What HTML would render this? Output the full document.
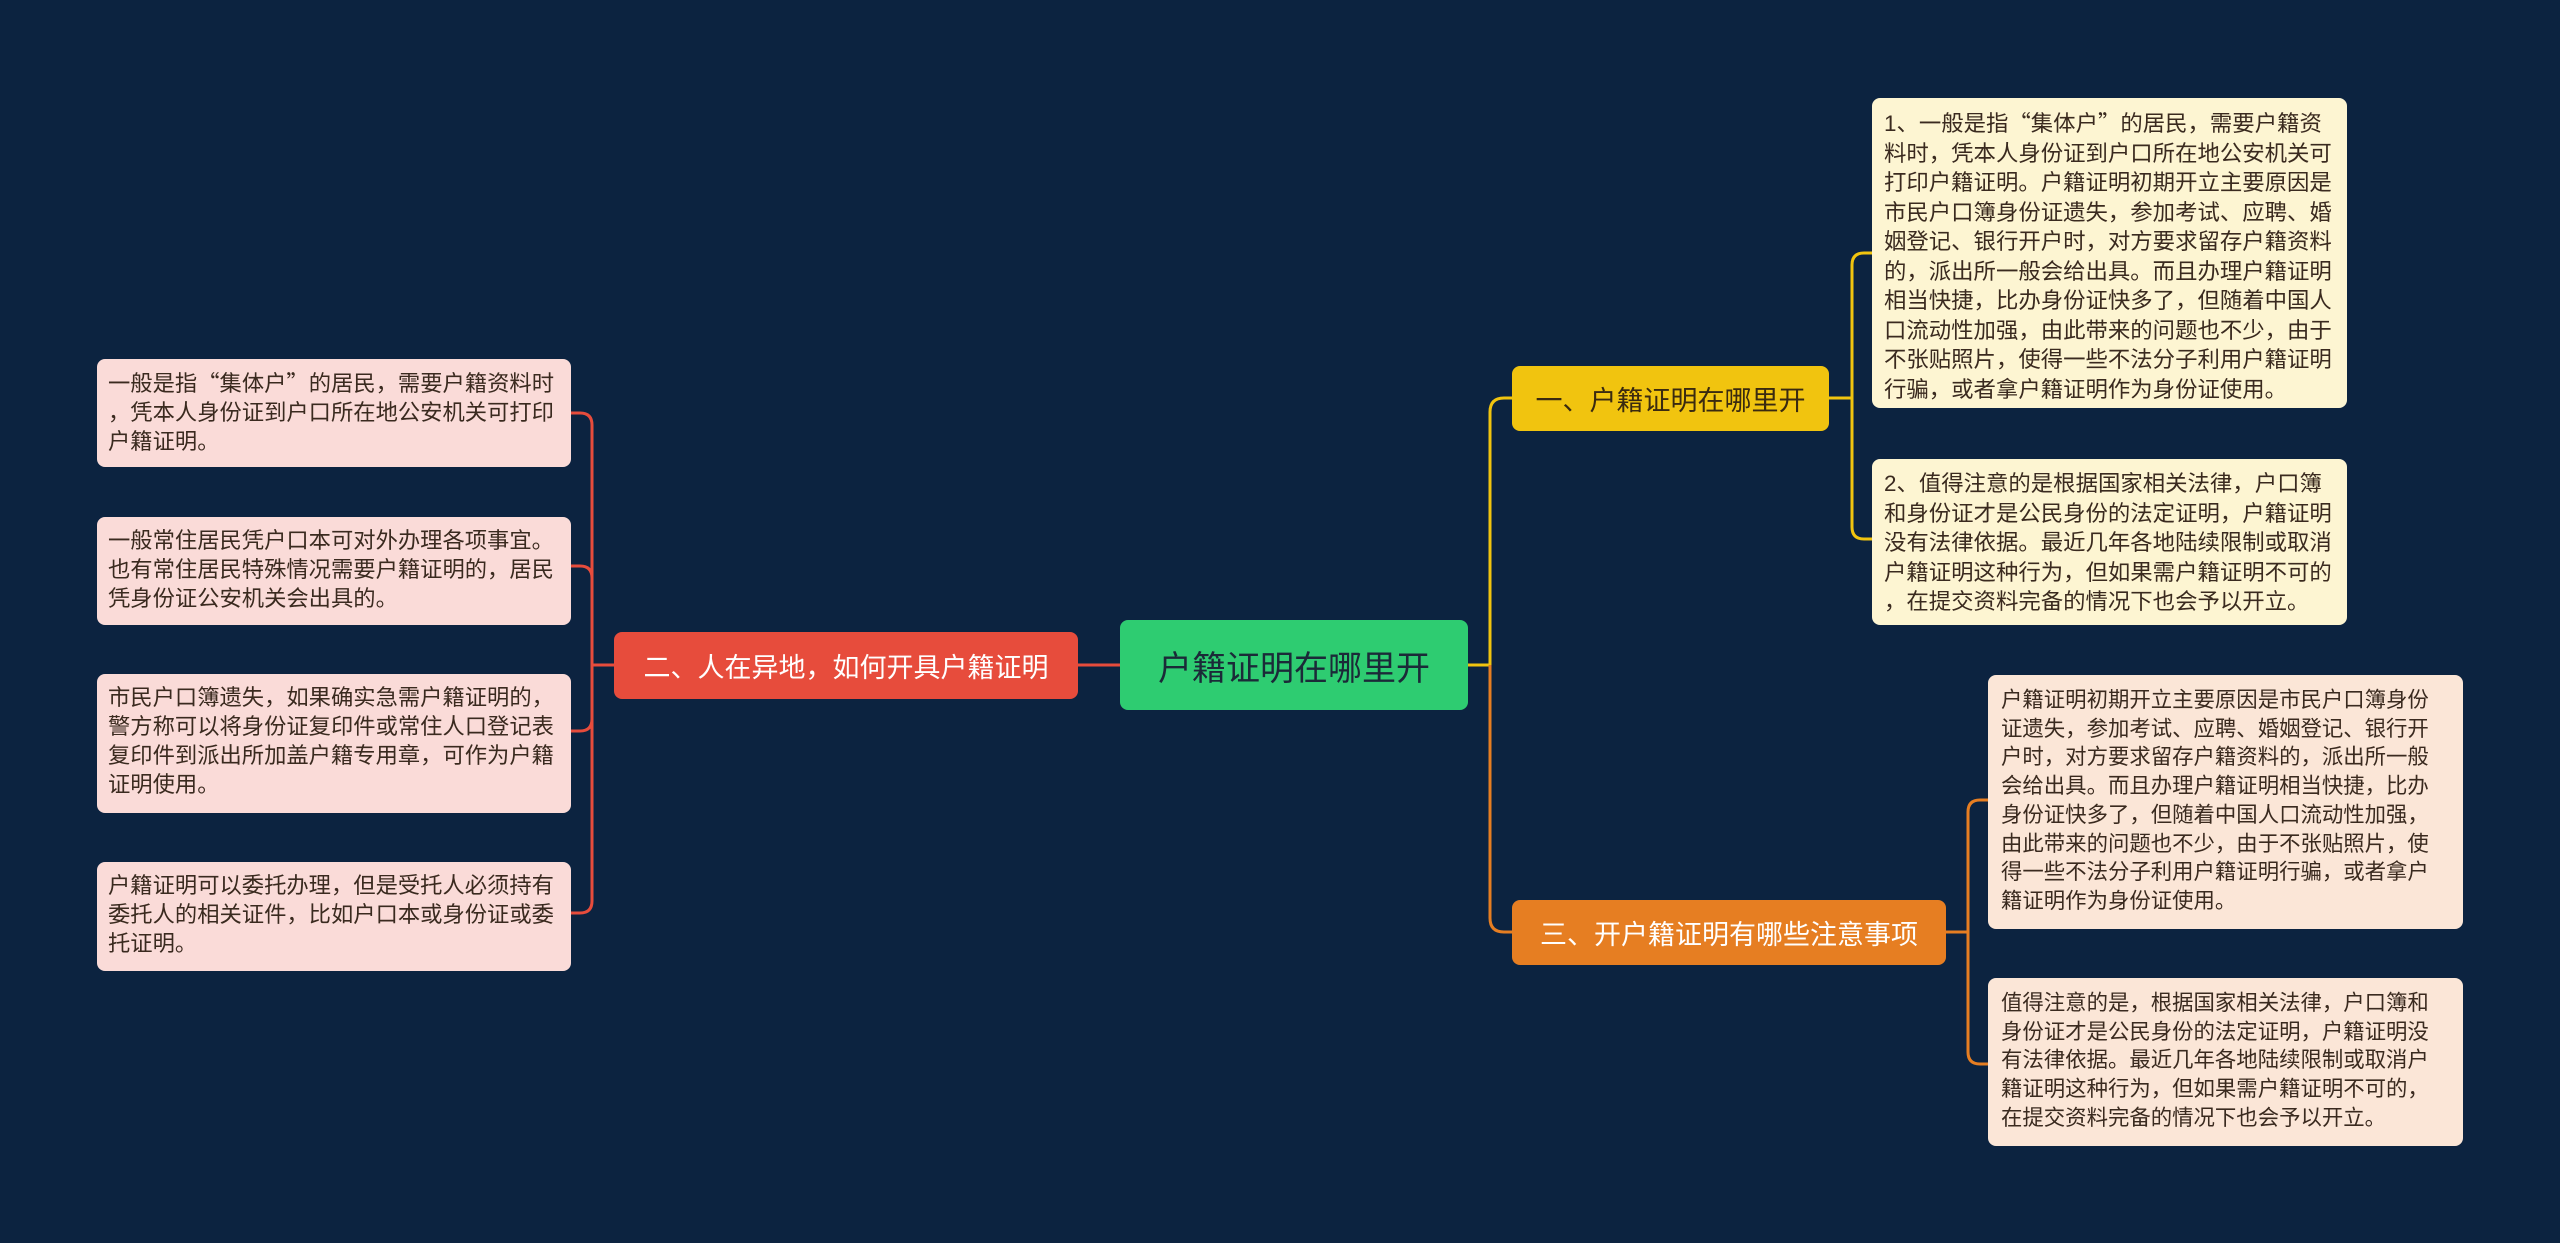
<!DOCTYPE html>
<html><head><meta charset="utf-8"><style>
body{margin:0;width:2560px;height:1243px;background:#0c2340;overflow:hidden;position:relative;font-family:"Liberation Sans","Noto Sans CJK SC",sans-serif;}
.b{position:absolute;box-sizing:border-box;border-radius:8px;white-space:nowrap;color:#3a2a1f;}
.n{position:absolute;box-sizing:border-box;border-radius:8px;display:flex;align-items:center;justify-content:center;white-space:nowrap;color:#fff;}
.l{background:#fadbd8;font-size:22.3px;line-height:29px;padding:9px 0 0 11px;}
.t{background:#fdf5d2;font-size:22.4px;line-height:29.5px;padding:10px 0 0 12px;}
.r{background:#fbe6d7;font-size:21.4px;line-height:28.7px;padding:11px 0 0 13px;}
.q{font-family:"Noto Sans CJK SC",sans-serif;}
</style></head><body>
<svg width="2560" height="1243" style="position:absolute;left:0;top:0">
<g fill="none" stroke-width="3">
<path d="M1120 665 H1078" stroke="#e74c3c"/>
<path d="M614 665 H592 M592 425 V901" stroke="#e74c3c"/>
<path d="M571 413 H580 Q592 413 592 425" stroke="#e74c3c"/>
<path d="M571 566 H580 Q592 566 592 578" stroke="#e74c3c"/>
<path d="M571 731 H580 Q592 731 592 719" stroke="#e74c3c"/>
<path d="M571 913 H580 Q592 913 592 901" stroke="#e74c3c"/>
<path d="M1468 665 H1490" stroke="#f1c40f"/>
<path d="M1490 665 V412 Q1490 398 1504 398 H1512" stroke="#f1c40f"/>
<path d="M1490 665 V918 Q1490 932 1504 932 H1512" stroke="#e67e22"/>
<path d="M1829 398 H1852 M1852 265 V527" stroke="#f1c40f"/>
<path d="M1872 253 H1864 Q1852 253 1852 265" stroke="#f1c40f"/>
<path d="M1872 539 H1864 Q1852 539 1852 527" stroke="#f1c40f"/>
<path d="M1946 932 H1968 M1968 812 V1052" stroke="#e67e22"/>
<path d="M1988 800 H1980 Q1968 800 1968 812" stroke="#e67e22"/>
<path d="M1988 1064 H1980 Q1968 1064 1968 1052" stroke="#e67e22"/>
</g></svg>

<div class="n" style="left:1120px;top:620px;width:348px;height:90px;background:#2ecc71;color:#1b2a38;font-size:34px;">户籍证明在哪里开</div>
<div class="n" style="left:614px;top:632px;width:464px;height:67px;background:#e74c3c;font-size:27px;">二、人在异地，如何开具户籍证明</div>
<div class="n" style="left:1512px;top:366px;width:317px;height:65px;background:#f1c40f;color:#3a2a10;font-size:27px;">一、户籍证明在哪里开</div>
<div class="n" style="left:1512px;top:900px;width:434px;height:65px;background:#e67e22;font-size:27px;">三、开户籍证明有哪些注意事项</div>

<div class="b l" style="left:97px;top:359px;width:474px;height:108px;">一般是指<span class="q">“</span>集体户<span class="q">”</span>的居民，需要户籍资料时<br>，凭本人身份证到户口所在地公安机关可打印<br>户籍证明。</div>
<div class="b l" style="left:97px;top:517px;width:474px;height:108px;">一般常住居民凭户口本可对外办理各项事宜。<br>也有常住居民特殊情况需要户籍证明的，居民<br>凭身份证公安机关会出具的。</div>
<div class="b l" style="left:97px;top:674px;width:474px;height:139px;">市民户口簿遗失，如果确实急需户籍证明的，<br>警方称可以将身份证复印件或常住人口登记表<br>复印件到派出所加盖户籍专用章，可作为户籍<br>证明使用。</div>
<div class="b l" style="left:97px;top:862px;width:474px;height:109px;">户籍证明可以委托办理，但是受托人必须持有<br>委托人的相关证件，比如户口本或身份证或委<br>托证明。</div>

<div class="b t" style="left:1872px;top:98px;width:475px;height:310px;">1、一般是指<span class="q">“</span>集体户<span class="q">”</span>的居民，需要户籍资<br>料时，凭本人身份证到户口所在地公安机关可<br>打印户籍证明。户籍证明初期开立主要原因是<br>市民户口簿身份证遗失，参加考试、应聘、婚<br>姻登记、银行开户时，对方要求留存户籍资料<br>的，派出所一般会给出具。而且办理户籍证明<br>相当快捷，比办身份证快多了，但随着中国人<br>口流动性加强，由此带来的问题也不少，由于<br>不张贴照片，使得一些不法分子利用户籍证明<br>行骗，或者拿户籍证明作为身份证使用。</div>
<div class="b t" style="left:1872px;top:459px;width:475px;height:166px;">2、值得注意的是根据国家相关法律，户口簿<br>和身份证才是公民身份的法定证明，户籍证明<br>没有法律依据。最近几年各地陆续限制或取消<br>户籍证明这种行为，但如果需户籍证明不可的<br>，在提交资料完备的情况下也会予以开立。</div>

<div class="b r" style="left:1988px;top:675px;width:475px;height:254px;">户籍证明初期开立主要原因是市民户口簿身份<br>证遗失，参加考试、应聘、婚姻登记、银行开<br>户时，对方要求留存户籍资料的，派出所一般<br>会给出具。而且办理户籍证明相当快捷，比办<br>身份证快多了，但随着中国人口流动性加强，<br>由此带来的问题也不少，由于不张贴照片，使<br>得一些不法分子利用户籍证明行骗，或者拿户<br>籍证明作为身份证使用。</div>
<div class="b r" style="left:1988px;top:978px;width:475px;height:168px;">值得注意的是，根据国家相关法律，户口簿和<br>身份证才是公民身份的法定证明，户籍证明没<br>有法律依据。最近几年各地陆续限制或取消户<br>籍证明这种行为，但如果需户籍证明不可的，<br>在提交资料完备的情况下也会予以开立。</div>
</body></html>
